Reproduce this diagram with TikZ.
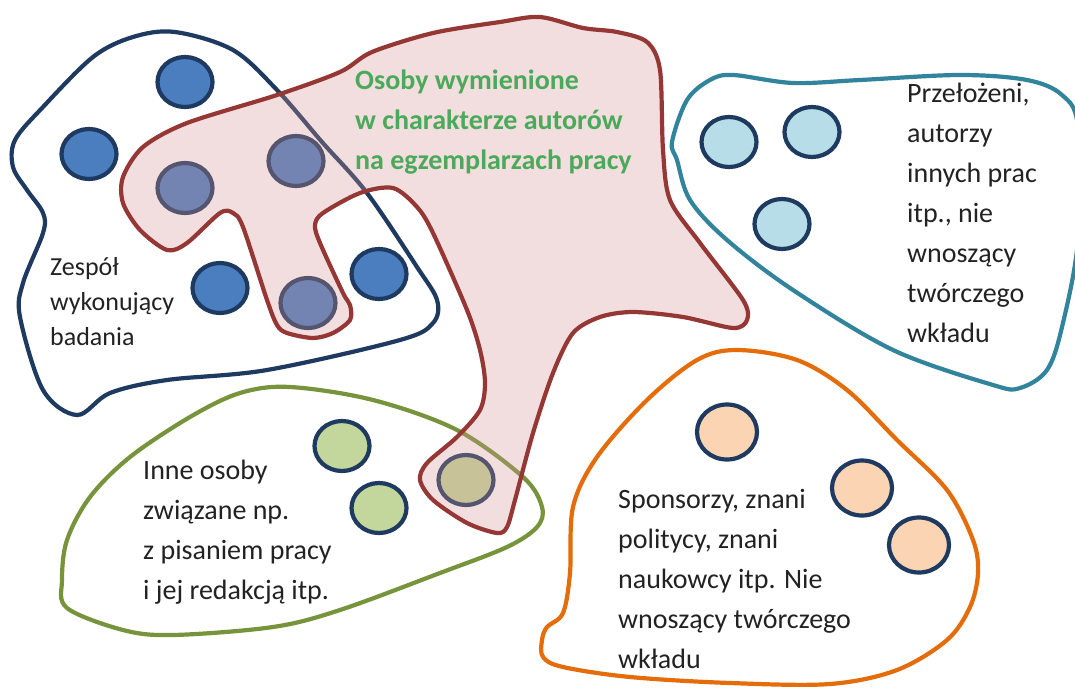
\documentclass[tikz,border=0pt]{standalone}
\usepackage{fontspec}
\setmainfont{Carlito}
\usetikzlibrary{shapes.geometric}
\definecolor{navy}{HTML}{1F3A60}
\definecolor{bluefill}{HTML}{4A7EBF}
\definecolor{redline}{HTML}{953735}
\definecolor{pinkfill}{RGB}{212,148,148}
\definecolor{txtgreen}{HTML}{4AAA5A}
\definecolor{teal}{HTML}{31849B}
\definecolor{lightblue}{HTML}{B7DEE8}
\definecolor{greenline}{HTML}{77933C}
\definecolor{greenfill}{HTML}{C3D69B}
\definecolor{orangeline}{HTML}{E46C0A}
\definecolor{orangefill}{HTML}{FBD4B4}
\definecolor{txtdark}{HTML}{222222}
\tikzset{
  blob/.style={line width=4.2pt, line join=round},
  person/.style={ellipse, draw=navy, line width=4.2pt, inner sep=0pt,
    minimum width=55pt, minimum height=50pt},
  bigperson/.style={person, minimum width=60pt, minimum height=55pt},
  label/.style={inner sep=0pt, align=left, text=txtdark,
    font=\fontsize{28}{40}\selectfont},
}
\begin{document}
\begin{tikzpicture}[x=1pt,y=-1pt]
\useasboundingbox (0,0) rectangle (1075,688);
\fill[white] (0,0) rectangle (1075,688);

% research team (navy)
\draw[blob, navy] plot[smooth cycle, tension=0.55] coordinates {
 (175,32) (233,50) (277,90) (322,142) (367,193) (417,267) (437,300) (433,323)
 (400,340) (267,370) (167,380) (110,393) (77,415) (43,390) (20,317) (23,283)
 (43,233) (43,213) (27,190) (13,167) (15,140) (43,107) (93,57) (133,37)};

% teal group
\draw[blob, teal] plot[smooth cycle, tension=0.55] coordinates {
 (672,142) (687,100) (710,80) (733,75) (793,83) (860,80) (960,75) (1027,80)
 (1062,95) (1078,127) (1078,240) (1062,327) (1047,370) (1020,388) (993,385)
 (893,350) (793,290) (727,240) (690,200) (677,160)};

% green group
\draw[blob, greenline] plot[smooth cycle, tension=0.55] coordinates {
 (290,387) (373,400) (457,430) (523,477) (542,507) (537,527) (507,547)
 (440,573) (340,610) (273,627) (173,635) (123,630) (67,608) (62,580)
 (67,540) (90,497) (130,457) (190,417) (240,393)};

% orange group
\draw[blob, orangeline] plot[smooth cycle, tension=0.55] coordinates {
 (737,350) (797,360) (847,390) (897,440) (947,490) (973,540) (978,573)
 (970,607) (947,640) (897,670) (830,684) (730,683) (630,677) (563,667)
 (543,657) (542,640) (547,627) (563,613) (570,573) (573,507) (597,457)
 (647,400) (697,360)};

% persons
\node[person, fill=bluefill] (b1) at (185,82) {};
\node[person, fill=bluefill] (b2) at (89,154) {};
\node[person, fill=bluefill] (b3) at (220,288) {};
\node[person, fill=bluefill] (b4) at (379,274) {};
\node[person, fill=bluefill] (b5) at (185,188) {};
\node[person, fill=bluefill] (b6) at (296,161) {};
\node[person, fill=bluefill] (b7) at (308,303) {};

\node[person, fill=lightblue] (t1) at (729,142) {};
\node[person, fill=lightblue] (t2) at (812,132) {};
\node[person, fill=lightblue] (t3) at (782,224) {};

\node[person, fill=greenfill] (g1) at (342,446) {};
\node[person, fill=greenfill] (g2) at (379,508) {};
\node[person, fill=greenfill] (g3) at (466,480) {};

\node[bigperson, fill=orangefill] (o1) at (727,432) {};
\node[bigperson, fill=orangefill] (o2) at (862,488) {};
\node[bigperson, fill=orangefill] (o3) at (919,545) {};

% labels
\node[label, anchor=west, font=\fontsize{26}{35}\selectfont] (lteam) at (50,302)
  {Zespół\\wykonujący\\badania};
\node[label, anchor=west] (lteal) at (907,213)
  {Przełożeni,\\autorzy\\innych prac\\itp., nie\\wnoszący\\twórczego\\wkładu};
\node[label, anchor=west] (lgreen) at (143,532)
  {Inne osoby\\związane np.\\z pisaniem pracy\\i jej redakcją itp.};
\node[label, anchor=west] (lorange) at (618,579)
  {Sponsorzy, znani\\politycy, znani\\naukowcy itp. Nie\\wnoszący twórczego\\wkładu};

% listed authors (translucent pink)
\draw[blob, redline, fill=pinkfill, fill opacity=0.3] plot[smooth cycle, tension=0.5] coordinates {
 (540,17) (583,28) (617,32) (647,42) (660,70) (663,150) (670,200) (700,243)
 (743,300) (747,320) (733,328) (683,317) (633,312) (600,317) (573,333)
 (553,373) (533,433) (515,500) (507,527) (497,533) (467,523) (433,500)
 (420,480) (427,463) (457,437) (480,410) (485,383) (480,350) (467,310)
 (433,233) (417,207) (393,188) (360,193) (323,213) (315,225) (320,243)
 (343,293) (350,305) (350,320) (333,333) (313,338) (287,333) (277,325)
 (267,300) (243,227) (233,213) (220,213) (187,243) (167,250) (140,230)
 (123,203) (123,177) (143,147) (187,123) (277,95) (340,72) (372,52)
 (433,33) (500,22)};

\node[label, anchor=west, text=txtgreen, font=\bfseries\fontsize{28}{40}\selectfont] (lauth) at (355,122)
  {Osoby wymienione\\w charakterze autorów\\na egzemplarzach pracy};
\end{tikzpicture}
\end{document}
